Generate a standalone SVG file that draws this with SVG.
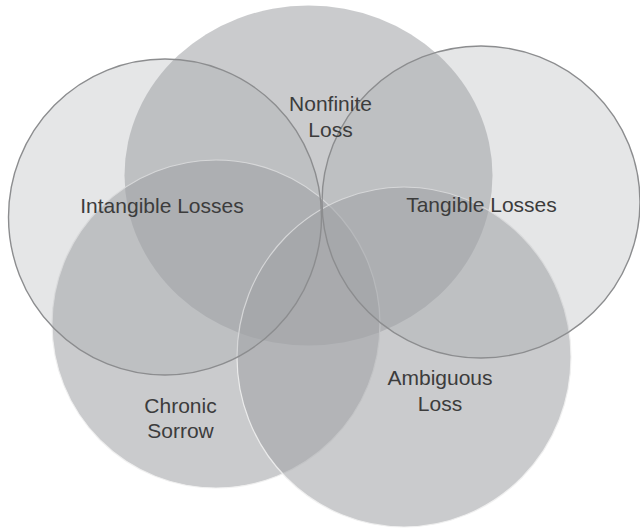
<svg xmlns="http://www.w3.org/2000/svg" width="640" height="530" viewBox="0 0 640 530">
<style>
.med{fill:rgb(160,162,165);fill-opacity:0.56}
.edge{stroke:#efefef;stroke-width:1.2;stroke-opacity:0.9}
.light{fill:rgb(160,162,166);fill-opacity:0.27;stroke:#8c8d8f;stroke-width:1.4}
text{font-family:"Liberation Sans",Arial,sans-serif;font-size:21px;fill:#3c3c3c;text-anchor:middle}
</style>
<rect width="640" height="530" fill="#ffffff"/>
<g id="nonfinite">
<ellipse class="med" cx="308.5" cy="175.5" rx="184" ry="170"/>
</g>
<g id="chronic">
<circle class="med edge" cx="216" cy="324" r="164"/>
</g>
<g id="ambiguous">
<ellipse class="med edge" cx="404" cy="357" rx="167" ry="170"/>
</g>
<g id="intangible">
<ellipse class="light" cx="165" cy="217" rx="156.5" ry="158"/>
</g>
<g id="tangible">
<ellipse class="light" cx="481" cy="202" rx="159" ry="156"/>
</g>
<g id="connectors"></g>
<g id="labels">
<text x="330.5" y="111">Nonfinite</text>
<text x="330.5" y="136.6">Loss</text>
<text x="162" y="212.7">Intangible Losses</text>
<text x="481.5" y="212.3">Tangible Losses</text>
<text x="180.5" y="412.7">Chronic</text>
<text x="180.5" y="438.3">Sorrow</text>
<text x="440" y="385">Ambiguous</text>
<text x="440" y="410.7">Loss</text>
</g>
</svg>
